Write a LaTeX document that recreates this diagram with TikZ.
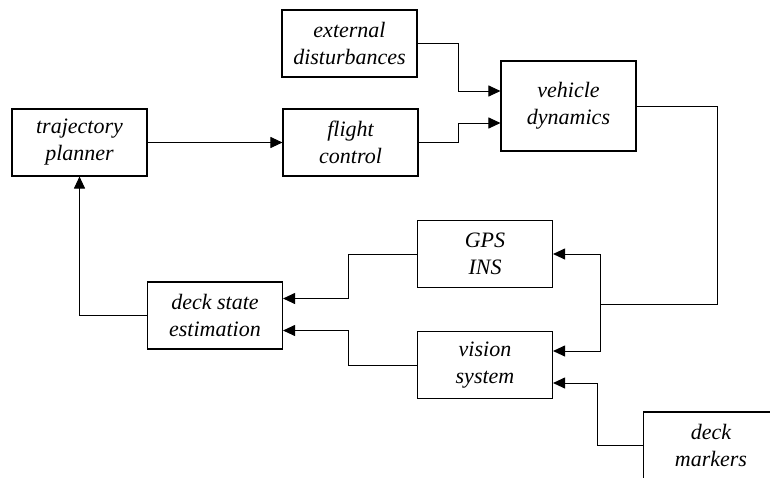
\documentclass[tikz,border=0pt]{standalone}
\usepackage{fontspec}
\setmainfont{Liberation Serif}
\usetikzlibrary{arrows.meta,calc}

\tikzset{
  block/.style={draw, line width=1.1pt, fill=white, minimum width=135pt,
    minimum height=67pt, inner sep=0pt, align=center,
    font=\fontsize{22}{27}\selectfont\itshape},
  wire/.style={line width=1pt},
  arr/.style={wire, -{Triangle[length=12pt,width=11pt]}}
}

\begin{document}
\begin{tikzpicture}[x=1pt,y=-1pt]
  \clip (0,0) rectangle (770,477);
  \fill[white] (0,0) rectangle (770,477);

  % blocks
  \node[block] (ext) at (349.5,43.5) {external\\disturbances};
  \node[block] (fc)  at (350.5,142.5) {flight\\control};
  \node[block, minimum height=90pt] (vd) at (568.5,106) {vehicle\\dynamics};
  \node[block] (tp)  at (79.5,142.5) {trajectory\\planner};
  \node[block] (gps) at (485,254) {GPS\\INS};
  \node[block] (vis) at (485,365) {vision\\system};
  \node[block] (dse) at (215,315.5) {deck state\\estimation};
  \node[block] (dm)  at (711,445.5) {deck\\markers};

  % junction where the vehicle state feeds both sensors
  \coordinate (j) at (600,304);

  % forward path
  \draw[arr] (tp.east) -- (fc.west);
  \draw[arr] (ext.east) -- ++(41,0) |- ($(vd.west)+(0,-15)$);
  \draw[arr] (fc.east) -- ++(40,0) |- ($(vd.west)+(0,17)$);

  % vehicle state to sensors
  \draw[wire] (vd.east) -| ($(j)+(117,0)$) -- (j);
  \draw[arr] (j) |- (gps.east);
  \draw[arr] (j) |- ($(vis.east)+(0,-14)$);
  \draw[arr] (dm.west) -- ++(-45,0) |- ($(vis.east)+(0,18)$);

  % sensors to estimator
  \draw[arr] (gps.west) -- ++(-68,0) |- ($(dse.east)+(0,-17)$);
  \draw[arr] (vis.west) -- ++(-68,0) |- ($(dse.east)+(0,15)$);

  % estimator back to planner
  \draw[arr] (dse.west) -| (tp.south);
\end{tikzpicture}
\end{document}
